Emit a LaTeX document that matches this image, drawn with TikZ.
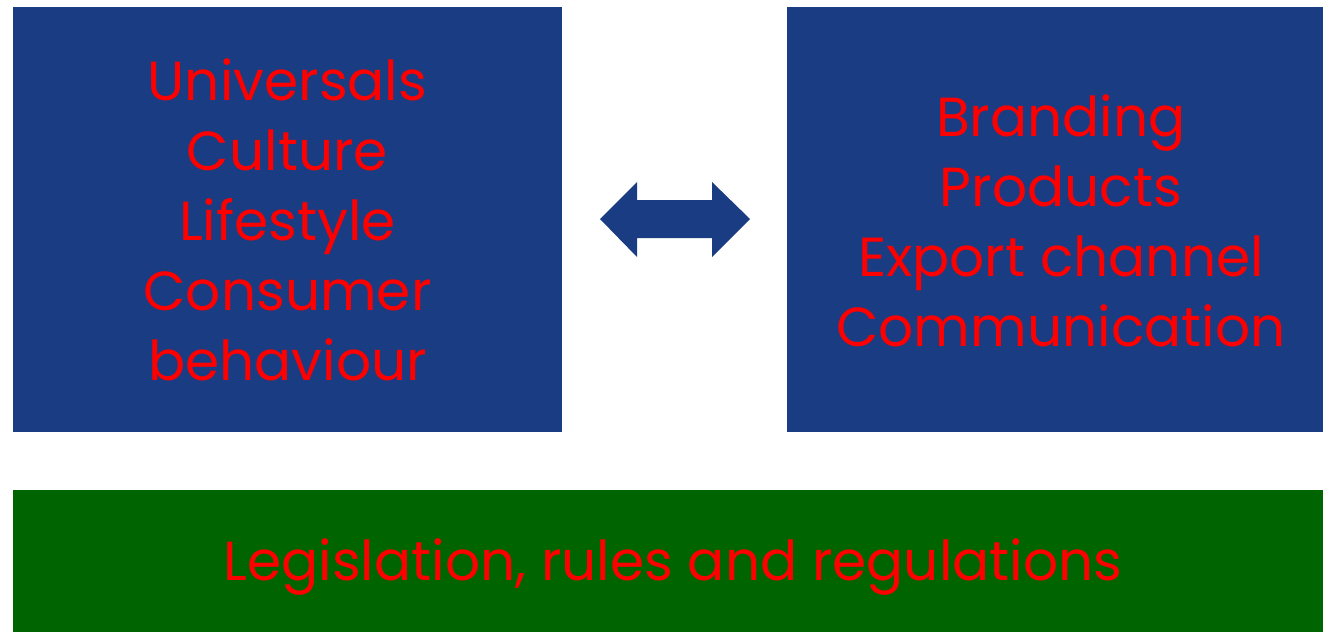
\documentclass[tikz,border=0pt]{standalone}
\usepackage{fontspec}
\setmainfont{Poppins}
\definecolor{boxblue}{HTML}{1A3C82}
\definecolor{boxgreen}{HTML}{006400}
\definecolor{txtred}{HTML}{FF0000}
\begin{document}
\begin{tikzpicture}[x=1pt,y=-1pt,
  bluebox/.style={fill=boxblue,draw=none,inner sep=0pt},
  greenbox/.style={fill=boxgreen,draw=none,inner sep=0pt},
  boxtext/.style={text=txtred,align=center,font=\fontsize{55}{70}\selectfont}]
\useasboundingbox (0,0) rectangle (1323,632);
\fill[white] (0,0) rectangle (1323,632);
\node[bluebox,minimum width=549pt,minimum height=425pt] (L) at (287.5,219.5) {};
\node[bluebox,minimum width=536pt,minimum height=425pt] (R) at (1055,219.5) {};
\node[greenbox,minimum width=1310pt,minimum height=142pt] (G) at (668,561) {};
\node[boxtext] (Lt) at (L.center) {Universals\\Culture\\Lifestyle\\Consumer\\behaviour};
\node[boxtext] (Rt) at (1061,221) {Branding\\Products\\Export channel\\Communication};
\node[boxtext] (Gt) at (673,567) {Legislation, rules and regulations};
\fill[boxblue] (600,219) -- (637,182) -- (637,200) -- (712,200) -- (712,182) -- (750,219)
  -- (712,257) -- (712,238) -- (637,238) -- (637,257) -- cycle;
\end{tikzpicture}
\end{document}
